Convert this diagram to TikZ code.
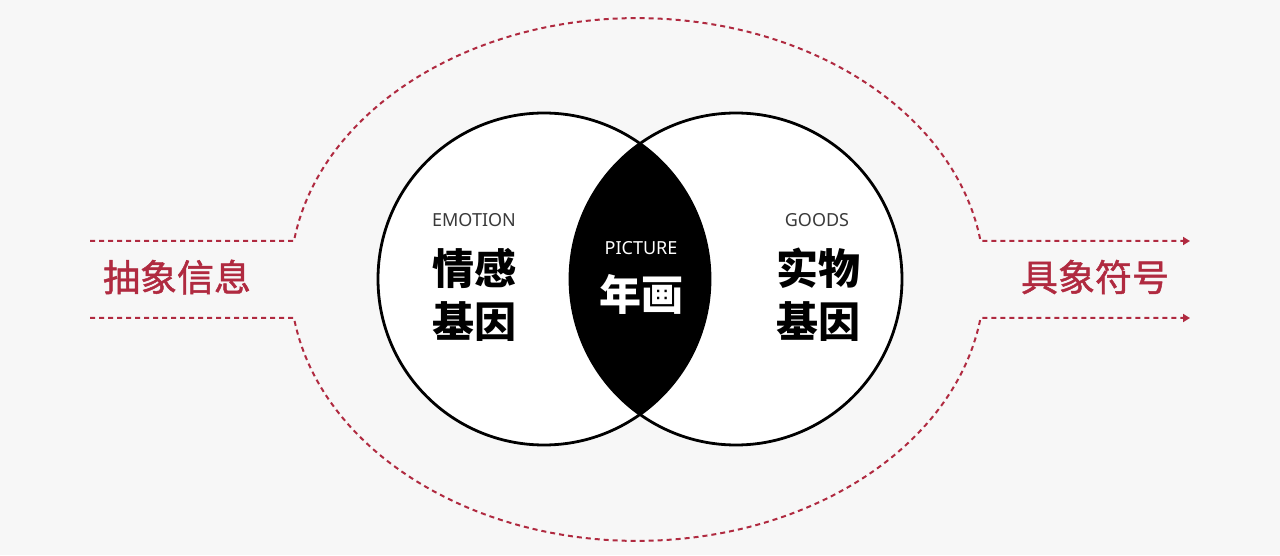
\documentclass[tikz,border=0pt]{standalone}
\usepackage{fontspec}
\setmainfont{Noto Sans}
\newfontfamily\cjk{Noto Sans CJK SC}
\newfontfamily\cjkm[FakeBold=1.3]{Noto Sans CJK SC}
\usetikzlibrary{arrows.meta}
\definecolor{bg}{HTML}{F7F7F7}
\definecolor{myred}{HTML}{B02A40}
\definecolor{txtgray}{HTML}{3A3A3A}
\tikzset{
  reddash/.style={draw=myred, line width=2pt, dash pattern=on 5pt off 4pt},
  circ/.style={line width=2.8pt, draw=black},
  latin/.style={font=\fontsize{18}{20}\selectfont, text=txtgray, inner sep=0pt},
  big/.style={font=\cjk\bfseries\fontsize{42}{44}\selectfont, inner sep=0pt},
  side/.style={font=\cjkm\fontsize{37}{40}\selectfont, text=myred, inner sep=0pt},
}
\begin{document}
\begin{tikzpicture}[x=1pt,y=1pt]
\fill[bg] (0,0) rectangle (1280,555);
\useasboundingbox (0,0) rectangle (1280,555);
% circles
\coordinate (cl) at (544,276);
\coordinate (cr) at (736,276);
\fill[white] (cl) circle[radius=166];
\fill[white] (cr) circle[radius=166];
\begin{scope}
  \clip (cl) circle[radius=166];
  \fill[black] (cr) circle[radius=166];
\end{scope}
\draw[circ] (cl) circle[radius=166];
\draw[circ] (cr) circle[radius=166];
% dashed flow
\coordinate (inTop) at (90,314);
\coordinate (inBot) at (90,237);
\coordinate (outTop) at (1190,314);
\coordinate (outBot) at (1190,237);
\coordinate (kTL) at (294,314);
\coordinate (kBL) at (294,237);
\draw[reddash, -{Triangle[length=7pt,width=8pt,fill=myred]}]
  (inTop) -- (kTL) arc[start angle=171.6, end angle=8.4, x radius=347, y radius=261] -- (outTop);
\draw[reddash, -{Triangle[length=7pt,width=8pt,fill=myred]}]
  (inBot) -- (kBL) arc[start angle=188.4, end angle=351.6, x radius=347, y radius=261] -- (outBot);
% texts
\node[latin] (emo) at (474,335) {EMOTION};
\node[big] (qg) at (474,287) {情感};
\node[big] (jy1) at (474,233) {基因};
\node[latin, text=white] (pic) at (641,307) {PICTURE};
\node[big, text=white] (nh) at (641,261) {年画};
\node[latin] (goods) at (817,335) {GOODS};
\node[big] (sw) at (818,287) {实物};
\node[big] (jy2) at (818,233) {基因};
\node[side] (cx) at (177,278) {抽象信息};
\node[side] (jx) at (1095,278) {具象符号};
\end{tikzpicture}
\end{document}
